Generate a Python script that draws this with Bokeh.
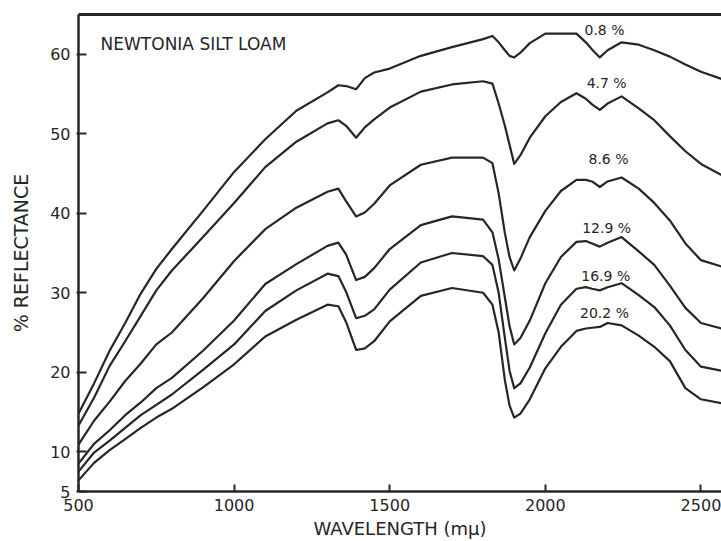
from bokeh.plotting import figure
from bokeh.models import Range1d, FixedTicker, LinearAxis, Label
from bokeh.core.properties import value
from bokeh.embed import file_html
from bokeh.resources import INLINE

# wavelength (m\u03bc) sample points
wavelength = [500, 550, 600, 650, 700, 750, 800, 900, 1000, 1100, 1200, 1300, 1335, 1360, 1392,
              1420, 1450, 1500, 1600, 1700, 1800, 1830, 1850, 1870, 1885, 1900, 1920, 1950, 2000,
              2050, 2100, 2130, 2150, 2175, 2200, 2245, 2300, 2350, 2400, 2450, 2500, 2566]

# % reflectance for each moisture content
refl_0_8 = [14.8, 18.6, 22.7, 26.2, 29.9, 33.0, 35.5, 40.3, 45.2, 49.3, 52.9, 55.2, 56.1, 56.0, 55.6,
            57.0, 57.7, 58.2, 59.8, 60.9, 61.9, 62.3, 61.5, 60.5, 59.8, 59.6, 60.2, 61.4, 62.6,
            62.6, 62.6, 61.5, 60.6, 59.6, 60.5, 61.5, 61.2, 60.5, 59.7, 58.7, 57.8, 56.9]
refl_4_7 = [13.3, 16.8, 20.8, 23.9, 27.1, 30.3, 32.8, 37.0, 41.3, 45.8, 49.0, 51.3, 51.7, 51.0, 49.5,
            50.8, 51.8, 53.3, 55.3, 56.2, 56.6, 56.3, 53.8, 51.0, 48.6, 46.2, 47.3, 49.5, 52.2,
            54.0, 55.1, 54.4, 53.7, 53.0, 53.8, 54.7, 53.2, 51.7, 49.7, 47.8, 46.2, 44.8]
refl_8_6 = [10.9, 13.9, 16.3, 18.9, 21.1, 23.5, 25.0, 29.3, 34.0, 38.0, 40.7, 42.7, 43.1, 41.5, 39.6,
            40.1, 41.2, 43.5, 46.1, 47.0, 47.0, 46.3, 42.5, 37.5, 34.5, 32.8, 34.3, 37.0, 40.3,
            42.8, 44.2, 44.2, 44.0, 43.3, 44.0, 44.5, 43.1, 41.3, 39.1, 36.2, 34.1, 33.3]
refl_12_9 = [8.5, 11.0, 12.7, 14.6, 16.2, 18.0, 19.3, 22.7, 26.5, 31.1, 33.6, 35.9, 36.3, 34.8, 31.6,
             32.0, 33.1, 35.5, 38.5, 39.6, 39.2, 37.6, 34.2, 29.4, 25.8, 23.5, 24.3, 26.5, 31.2,
             34.5, 36.4, 36.5, 36.2, 35.8, 36.3, 37.0, 35.2, 33.5, 30.9, 28.1, 26.2, 25.5]
refl_16_9 = [7.5, 9.9, 11.4, 13.0, 14.6, 15.9, 17.2, 20.3, 23.5, 27.7, 30.3, 32.4, 32.1, 30.1, 26.8,
             27.1, 27.9, 30.4, 33.8, 35.0, 34.6, 33.5, 30.0, 24.3, 20.2, 18.0, 18.6, 20.6, 24.9,
             28.5, 30.5, 30.7, 30.5, 30.3, 30.7, 31.2, 29.7, 28.2, 25.9, 22.8, 20.7, 20.2]
refl_20_2 = [6.4, 8.6, 10.2, 11.6, 13.0, 14.3, 15.4, 18.1, 21.0, 24.5, 26.6, 28.5, 28.3, 26.3, 22.8,
             23.0, 23.9, 26.4, 29.6, 30.6, 30.0, 28.5, 25.0, 19.0, 15.8, 14.3, 14.8, 16.6, 20.5,
             23.2, 25.2, 25.5, 25.6, 25.7, 26.2, 25.9, 24.6, 23.2, 21.4, 18.0, 16.6, 16.1]

series = [refl_0_8, refl_4_7, refl_8_6, refl_12_9, refl_16_9, refl_20_2]

label_text = ["0.8 %", "4.7 %", "8.6 %", "12.9 %", "16.9 %", "20.2 %"]
label_x = [2190, 2197, 2203, 2197, 2194, 2190]
label_y = [63.0, 56.4, 46.8, 38.2, 32.1, 27.5]

x_ticks = [500, 1000, 1500, 2000, 2500]
y_ticks = [5, 10, 20, 30, 40, 50, 60]

INK = "#262626"
FONT = "DejaVu Sans"

p = figure(width=721, height=541, x_range=Range1d(500, 2566), y_range=Range1d(5, 65),
           output_backend="svg", toolbar_location=None,
           min_border_left=78, min_border_right=0, min_border_top=14, min_border_bottom=49)
p.outline_line_color = None
p.xgrid.visible = False
p.ygrid.visible = False
p.background_fill_color = "white"
p.border_fill_color = "white"

for ys in series:
    p.line(wavelength, ys, line_color=INK, line_width=2.2, line_join="round")

p.text(x=label_x, y=label_y, text=label_text, text_font=value(FONT), text_font_size="14px",
       text_align="center", text_baseline="middle", text_color=INK)

p.add_layout(Label(x=571, y=61.3, text="NEWTONIA SILT LOAM", text_font=FONT,
                   text_font_size="17px", text_baseline="middle", text_color=INK))

xa = p.xaxis[0]
xa.ticker = FixedTicker(ticks=x_ticks)
xa.axis_label = "WAVELENGTH (m\u03bc)"
xa.axis_line_width = 2.5
xa.axis_line_color = INK
xa.major_tick_in = 7
xa.major_tick_out = 0
xa.major_tick_line_width = 2
xa.major_tick_line_color = INK
xa.minor_tick_line_color = None
xa.major_label_standoff = 7
xa.major_label_text_font = FONT
xa.major_label_text_font_size = "16px"
xa.major_label_text_color = INK
xa.axis_label_text_font = FONT
xa.axis_label_text_font_size = "18px"
xa.axis_label_text_font_style = "normal"
xa.axis_label_text_color = INK
xa.axis_label_standoff = 4

ya = p.yaxis[0]
ya.ticker = FixedTicker(ticks=y_ticks)
ya.axis_label = "% REFLECTANCE"
ya.axis_line_width = 2.5
ya.axis_line_color = INK
ya.major_tick_in = 8
ya.major_tick_out = 2
ya.major_tick_line_width = 2
ya.major_tick_line_color = INK
ya.minor_tick_line_color = None
ya.major_label_standoff = 6
ya.major_label_text_font = FONT
ya.major_label_text_font_size = "16px"
ya.major_label_text_color = INK
ya.axis_label_text_font = FONT
ya.axis_label_text_font_size = "19px"
ya.axis_label_text_font_style = "normal"
ya.axis_label_text_color = INK
ya.axis_label_standoff = 15

top = LinearAxis(ticker=FixedTicker(ticks=[]), axis_line_width=3, axis_line_color=INK,
                 major_tick_in=0, major_tick_out=0, minor_tick_in=0, minor_tick_out=0,
                 major_label_standoff=0, major_label_text_font_size="0px")
p.add_layout(top, "above")

open("out.html", "w").write(file_html(p, INLINE))
